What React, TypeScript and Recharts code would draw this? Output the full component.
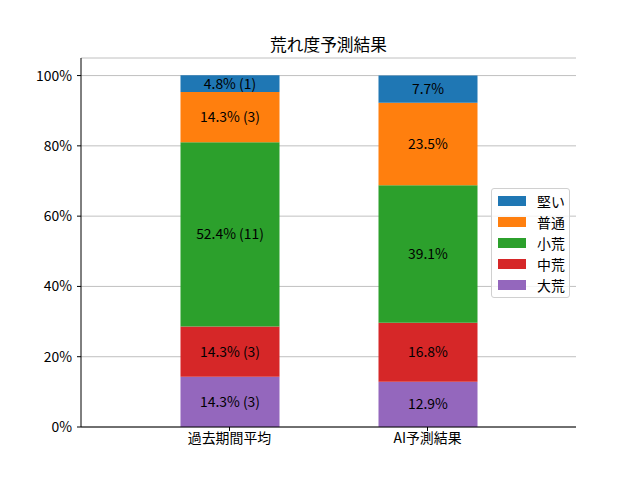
import { BarChart, Bar, XAxis, YAxis, CartesianGrid, LabelList } from "recharts";

const categories = ["過去期間平均", "AI予測結果"];
const daiare = [14.3, 12.9];
const chuare = [14.3, 16.8];
const shoare = [52.4, 39.1];
const futsu = [14.3, 23.5];
const katai = [4.8, 7.7];
// counts are only shown for the past-period bar
const daiareCount = [3, null];
const chuareCount = [3, null];
const shoareCount = [11, null];
const futsuCount = [3, null];
const kataiCount = [1, null];
const yTicks = [0, 20, 40, 60, 80, 100];

const series = [
  { key: "大荒", values: daiare, counts: daiareCount, color: "#9467bd" },
  { key: "中荒", values: chuare, counts: chuareCount, color: "#d62728" },
  { key: "小荒", values: shoare, counts: shoareCount, color: "#2ca02c" },
  { key: "普通", values: futsu, counts: futsuCount, color: "#ff7f0e" },
  { key: "堅い", values: katai, counts: kataiCount, color: "#1f77b4" },
];

const data = categories.map((name, i) => {
  const row: Record<string, any> = { name };
  series.forEach((s) => {
    row[s.key] = s.values[i];
    row[s.key + "_n"] = s.counts[i];
  });
  return row;
});

const FONT = "'Noto Sans CJK JP', 'DejaVu Sans', sans-serif";

const LegendBox = () => (
  <div
    style={{
      position: "absolute",
      left: 491,
      top: 188,
      width: 79,
      height: 110,
      border: "1px solid #d0d0d0",
      borderRadius: 3,
      background: "rgba(255,255,255,0.8)",
      boxSizing: "border-box",
      padding: "1px 0 0 6px",
      fontFamily: FONT,
      fontSize: 13.9,
      color: "#000",
    }}
  >
    {[...series].reverse().map((s) => (
      <div key={s.key} style={{ display: "flex", alignItems: "center", height: 21 }}>
        <span style={{ display: "inline-block", width: 28, height: 10, background: s.color, marginRight: 11 }} />
        <span>{s.key}</span>
      </div>
    ))}
  </div>
);

export default function App() {
  return (
    <div style={{ position: "relative", width: 640, height: 480, background: "#fff" }}>
      <style>{`body{margin:0}`}</style>
      <div
        style={{
          position: "absolute",
          left: 81,
          width: 495,
          top: 32,
          textAlign: "center",
          fontFamily: FONT,
          fontSize: 16.7,
          color: "#000",
          lineHeight: "24px",
        }}
      >
        荒れ度予測結果
      </div>
      <BarChart
        width={640}
        height={480}
        data={data}
        margin={{ top: 58, right: 64, left: 21, bottom: 0 }}
        style={{ fontFamily: FONT }}
      >
        <CartesianGrid horizontal vertical={false} stroke="#b0b0b0" strokeWidth={0.8} />
        <XAxis
          dataKey="name"
          height={53}
          padding={{ left: 49.5, right: 49.5 }}
          axisLine={{ stroke: "#000" }}
          tickLine={{ stroke: "#000" }}
          tickSize={4}
          tick={{ fill: "#000", fontSize: 13.9 }}
        />
        <XAxis
          xAxisId="top"
          dataKey="name"
          orientation="top"
          height={0}
          tick={false}
          tickLine={false}
          axisLine={{ stroke: "#000" }}
        />
        <YAxis
          width={60}
          domain={[0, 105]}
          ticks={yTicks}
          allowDataOverflow
          tickFormatter={(v) => `${v}%`}
          axisLine={{ stroke: "#000" }}
          tickLine={{ stroke: "#000" }}
          tickSize={4}
          tickMargin={5}
          tick={{ fill: "#000", fontSize: 13.9 }}
        />
        <YAxis
          yAxisId="right"
          orientation="right"
          width={0}
          domain={[0, 105]}
          tick={false}
          tickLine={false}
          axisLine={{ stroke: "#000" }}
        />
        {series.map((s) => (
          <Bar key={s.key} dataKey={s.key} stackId="a" fill={s.color} barSize={99} isAnimationActive={false}>
            <LabelList
              position="center"
              fill="#000"
              fontSize={13.9}
              valueAccessor={(entry: any) => {
                const p = entry.payload ?? entry;
                const v = p[s.key];
                const n = p[s.key + "_n"];
                return n != null ? `${v}% (${n})` : `${v}%`;
              }}
            />
          </Bar>
        ))}
      </BarChart>
      <LegendBox />
    </div>
  );
}
